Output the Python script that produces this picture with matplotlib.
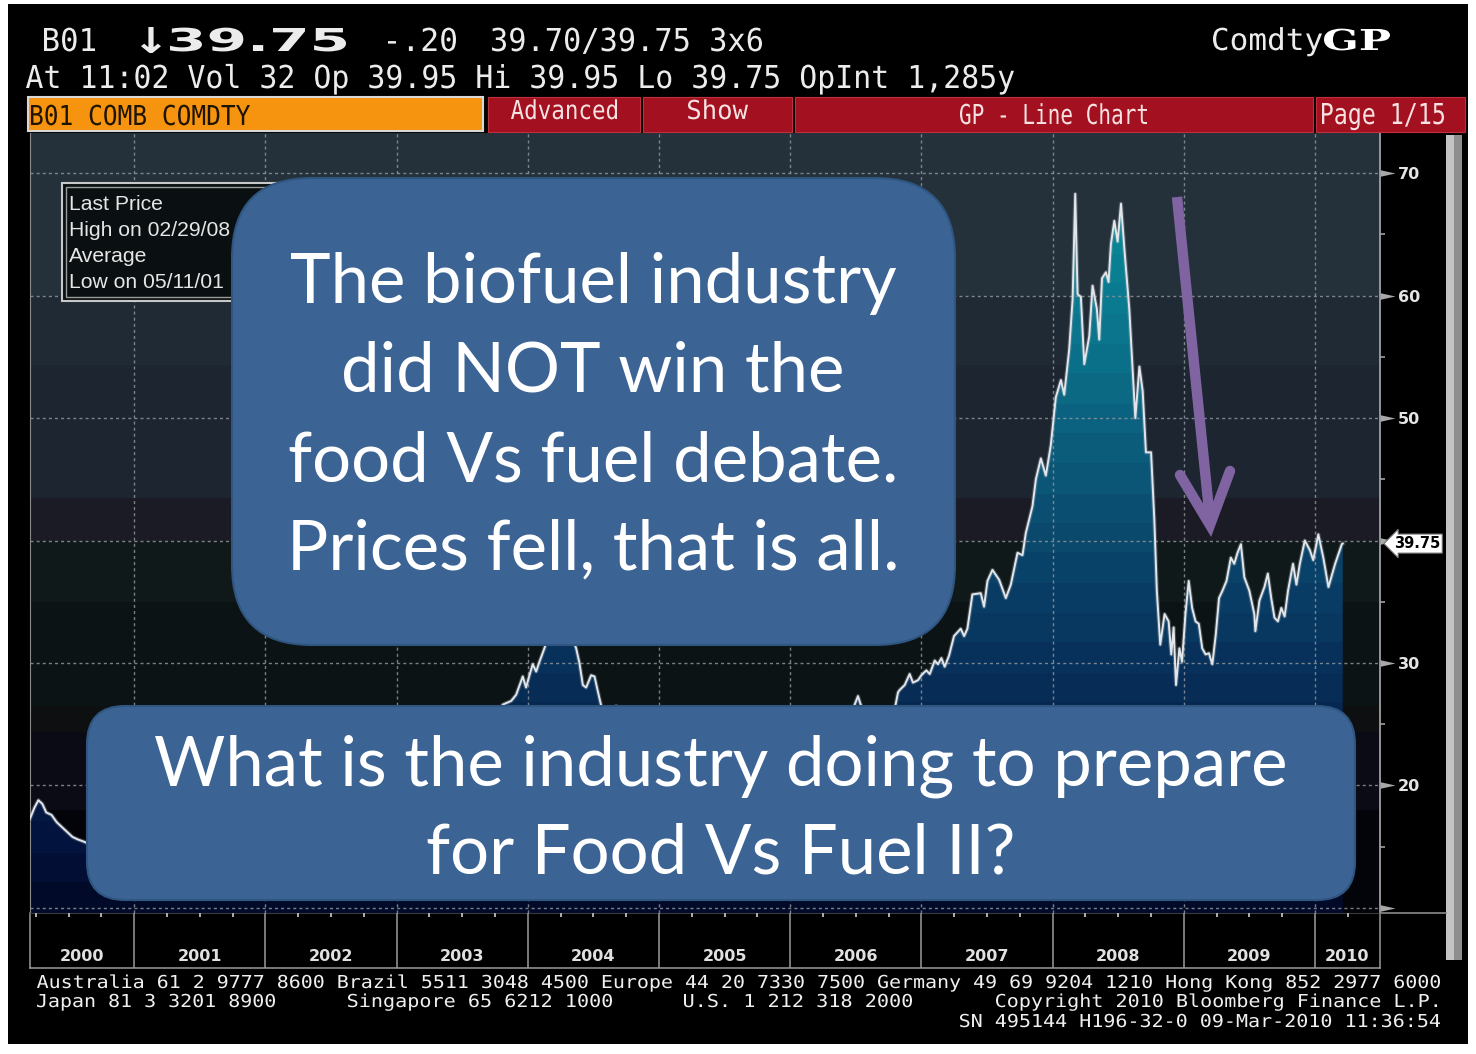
import matplotlib as mpl
mpl.use('agg')
import matplotlib.pyplot as plt
import numpy as np
from matplotlib.colors import LinearSegmentedColormap, ListedColormap
from matplotlib.font_manager import FontProperties
from matplotlib.patches import FancyBboxPatch, PathPatch, Polygon, Rectangle
from matplotlib.path import Path
from matplotlib.textpath import TextPath
from matplotlib.transforms import Affine2D, blended_transform_factory

W, H = 1476, 1054

# soybean oil front month (BO1), cents/lb (hidden parts estimated)
dates = [
    2000.206, 2000.24, 2000.27, 2000.30, 2000.33, 2000.37, 2000.41, 2000.45, 2000.49, 2000.53,
    2000.57, 2000.62, 2000.70, 2000.78, 2000.86, 2000.94, 2001.02, 2001.10, 2001.18, 2001.26,
    2001.36, 2001.44, 2001.52, 2001.60, 2001.68, 2001.76, 2001.84, 2001.92, 2002.00, 2002.10,
    2002.20, 2002.30, 2002.40, 2002.50, 2002.60, 2002.70, 2002.80, 2002.90, 2003.00, 2003.10,
    2003.20, 2003.30, 2003.40, 2003.50, 2003.58, 2003.66, 2003.74, 2003.809, 2003.873, 2003.911,
    2003.949, 2003.962, 2003.987, 2004.013, 2004.038, 2004.064, 2004.089, 2004.127, 2004.17, 2004.21,
    2004.25, 2004.29, 2004.33, 2004.369, 2004.394, 2004.420, 2004.445, 2004.483, 2004.509, 2004.534,
    2004.560, 2004.60, 2004.64, 2004.674, 2004.72, 2004.80, 2004.88, 2004.96, 2005.04, 2005.12,
    2005.20, 2005.28, 2005.36, 2005.44, 2005.52, 2005.60, 2005.68, 2005.76, 2005.84, 2005.92,
    2006.00, 2006.08, 2006.16, 2006.24, 2006.32, 2006.40, 2006.47, 2006.517, 2006.55, 2006.62,
    2006.70, 2006.76, 2006.80, 2006.822, 2006.835, 2006.873, 2006.911, 2006.936, 2006.975, 2007.000,
    2007.038, 2007.064, 2007.102, 2007.127, 2007.153, 2007.178, 2007.211, 2007.249, 2007.300, 2007.326,
    2007.351, 2007.389, 2007.453, 2007.478, 2007.504, 2007.542, 2007.593, 2007.644, 2007.682, 2007.733,
    2007.771, 2007.796, 2007.847, 2007.873, 2007.911, 2007.949, 2007.987, 2008.025, 2008.064, 2008.089,
    2008.127, 2008.153, 2008.173, 2008.191, 2008.216, 2008.242, 2008.280, 2008.305, 2008.338, 2008.356,
    2008.377, 2008.407, 2008.427, 2008.445, 2008.471, 2008.496, 2008.522, 2008.547, 2008.585, 2008.631,
    2008.662, 2008.687, 2008.712, 2008.751, 2008.776, 2008.795, 2008.821, 2008.854, 2008.885, 2008.905,
    2008.923, 2008.941, 2008.967, 2008.987, 2009.013, 2009.038, 2009.064, 2009.090, 2009.115, 2009.141,
    2009.167, 2009.192, 2009.218, 2009.244, 2009.269, 2009.295, 2009.326, 2009.359, 2009.385, 2009.410,
    2009.436, 2009.462, 2009.500, 2009.538, 2009.546, 2009.577, 2009.615, 2009.641, 2009.667, 2009.692,
    2009.718, 2009.744, 2009.769, 2009.795, 2009.833, 2009.859, 2009.885, 2009.923, 2009.962, 2009.987,
    2010.026, 2010.064, 2010.103, 2010.154, 2010.205, 2010.212,
]
price = [
    17.3, 18.2, 18.8, 18.5, 17.8, 17.6, 17.0, 16.6, 16.2, 15.8,
    15.6, 15.4, 15.0, 14.8, 15.3, 14.9, 15.2, 14.8, 14.9, 14.5,
    14.2, 15.8, 17.2, 17.8, 16.9, 16.2, 16.8, 15.9, 15.6, 15.3,
    15.9, 16.4, 17.8, 19.8, 20.8, 21.3, 20.6, 21.4, 20.8, 21.2,
    21.6, 22.1, 21.4, 20.8, 20.5, 22.8, 24.8, 26.6, 26.9, 27.4,
    28.5, 28.9, 28.0, 29.0, 29.9, 29.3, 30.1, 31.2, 32.6, 33.6,
    34.3, 33.4, 32.4, 31.2, 30.0, 28.2, 28.0, 29.0, 28.9, 27.7,
    26.5, 25.6, 26.0, 26.5, 24.2, 21.8, 20.9, 20.3, 20.8, 21.5,
    23.4, 24.1, 22.6, 23.2, 24.0, 22.8, 21.5, 21.0, 21.4, 21.8,
    22.3, 22.6, 23.1, 23.8, 24.6, 25.3, 26.0, 27.3, 26.2, 24.8,
    23.6, 24.7, 26.4, 27.6, 27.8, 28.2, 29.1, 28.4, 28.6, 29.0,
    29.4, 29.1, 30.2, 29.9, 30.4, 29.7, 30.6, 32.2, 32.8, 32.2,
    32.8, 35.6, 35.7, 34.6, 36.7, 37.6, 36.8, 35.3, 36.4, 39.0,
    38.8, 40.6, 42.8, 45.0, 46.7, 45.3, 47.8, 51.7, 53.1, 51.9,
    55.6, 59.7, 68.3, 60.1, 59.9, 54.4, 56.7, 60.8, 58.9, 56.4,
    61.4, 61.9, 61.1, 64.2, 66.1, 64.4, 67.5, 63.9, 58.9, 50.0,
    54.2, 52.2, 47.2, 47.2, 41.7, 35.9, 31.5, 34.0, 33.4, 30.7,
    32.9, 28.2, 31.2, 30.1, 34.0, 36.7, 34.5, 33.4, 33.2, 31.2,
    30.7, 30.8, 29.9, 32.3, 35.3, 35.9, 36.7, 38.6, 38.1, 39.0,
    39.7, 37.0, 35.9, 34.0, 32.6, 35.1, 36.2, 37.3, 35.3, 33.7,
    33.4, 34.5, 33.8, 35.9, 38.1, 36.4, 38.1, 40.0, 39.2, 38.4,
    40.5, 38.6, 36.2, 38.1, 39.7, 39.75,
]

years = list(range(2000, 2011))
price_ticks = [10, 20, 30, 40, 50, 60, 70]
price_labels = ['', '20', '30', '', '50', '60', '70']
minor_price_ticks = [15, 25, 35, 45, 55, 65]
legend_rows = ['Last Price', 'High on 02/29/08', 'Average', 'Low on 05/11/01']

callout_top = ['The biofuel industry', 'did NOT win the', 'food Vs fuel debate.', 'Prices fell, that is all.']
callout_bottom = ['What is the industry doing to prepare', 'for Food Vs Fuel II?']

x_lo, x_hi = 2000.206, 2010.496
y_lo, y_hi = 9.59, 73.27

# plot background bands and fill colours by price level
band_edges = [y_lo, 18, 24.4, 26.5, 35, 40, 43.5, 54.3, 60, y_hi]
band_colors = ['#03040a', '#0a0b14', '#0e0f11', '#0b1314', '#101919', '#1a1b25', '#1c2530', '#1f2a34', '#24313b']
fill_stops = [(9.59, '#020a2a'), (15, '#031440'), (20, '#051c48'), (25, '#072850'), (30, '#08325c'),
              (35, '#093c64'), (40, '#0a486c'), (45, '#0b5676'), (50, '#0b6280'), (55, '#0b6e88'),
              (60, '#0a7a90'), (68, '#088896'), (73.27, '#088c98')]


def fit_text(ax, s, x0, x1, base, cap, color, family='DejaVu Sans Mono', weight='normal', z=6):
    fp = FontProperties(family=family, weight=weight)
    tp = TextPath((0, 0), s, size=100, prop=fp)
    ext = tp.get_extents()
    cap_h = TextPath((0, 0), 'H', size=100, prop=fp).get_extents().y1
    tr = Affine2D().translate(-ext.x0, 0).scale((x1 - x0) / ext.width, -cap / cap_h).translate(x0, base)
    ax.add_patch(PathPatch(tr.transform_path(tp), fc=color, ec='none', lw=0, zorder=z))


def fit_box(ax, s, x0, x1, top, bottom, color, family='DejaVu Sans', weight='bold', z=6):
    fp = FontProperties(family=family, weight=weight)
    tp = TextPath((0, 0), s, size=100, prop=fp)
    ext = tp.get_extents()
    tr = Affine2D().translate(-ext.x0, -ext.y1).scale((x1 - x0) / ext.width, -(bottom - top) / ext.height).translate(x0, top)
    ax.add_patch(PathPatch(tr.transform_path(tp), fc=color, ec='none', lw=0, zorder=z))


def size_for(s, width, family='Lato'):
    w = TextPath((0, 0), s, size=100, prop=FontProperties(family=family)).get_extents().width
    return 100 * width / w * 0.72


fig = plt.figure(figsize=(W / 100, H / 100), dpi=100)
fig.patch.set_facecolor('white')

# black terminal background
bg = fig.add_axes([0, 0, 1, 1], zorder=-1)
bg.set_xlim(0, W)
bg.set_ylim(H, 0)
bg.axis('off')
bg.add_patch(Rectangle((8, 4), 1460, 1040, fc='black', ec='none'))

# ---- chart ----
ax = fig.add_axes([30 / W, 1 - 913 / H, 1350 / W, 780 / H], zorder=0)
ax.set_facecolor('black')
for lo, hi, c in zip(band_edges[:-1], band_edges[1:], band_colors):
    ax.axhspan(lo, hi, color=c, lw=0, zorder=0)

fill_cmap = LinearSegmentedColormap.from_list(
    'bbg', [((p - y_lo) / (y_hi - y_lo), c) for p, c in fill_stops])
n_steps = 26
fill_cmap = ListedColormap(fill_cmap(np.linspace(0, 1, n_steps)))
verts = [(dates[0], y_lo)] + list(zip(dates, price)) + [(dates[-1], y_lo)]
clip = Polygon(verts, closed=True, fc='none', ec='none')
ax.add_patch(clip)
grad = np.linspace(y_lo, y_hi, 400).reshape(-1, 1)
im = ax.imshow(grad, extent=[x_lo, x_hi, y_lo, y_hi], origin='lower', aspect='auto',
               cmap=fill_cmap, vmin=y_lo, vmax=y_hi, zorder=2, interpolation='nearest')
im.set_clip_path(clip)

ax.plot(dates, price, color='#9aa5b0', lw=3.0, alpha=0.35, zorder=3.9)
ax.plot(dates, price, color='#e2e6ea', lw=1.4, zorder=4)

ax.set_xlim(x_lo, x_hi)
ax.set_ylim(y_lo, y_hi)
ax.set_axisbelow(False)

ax.set_xticks(years[1:])
ax.set_xticklabels([])
quarters = [y + q for y in years for q in (0.25, 0.5, 0.75) if x_lo < y + q < x_hi]
ax.set_xticks(quarters, minor=True)
ax.tick_params(axis='x', which='major', direction='out', length=55 * 0.72, color='#9a9a9a', width=1.1)
ax.tick_params(axis='x', which='minor', direction='out', length=4 * 0.72, color='#b0b0b0', width=1.4)

ax.yaxis.tick_right()
ax.set_yticks(price_ticks, labels=price_labels)
ax.set_yticks(minor_price_ticks, minor=True)
ax.tick_params(axis='y', which='major', length=0, pad=18 * 0.72, labelsize=11.5, labelcolor='#e4e4e4')
ax.tick_params(axis='y', which='minor', direction='out', length=5 * 0.72, color='#a0a0a0', width=1.2)
for lab in ax.get_yticklabels():
    lab.set_fontweight('bold')

ax.grid(True, which='major', color='#8d9399', ls=(0, (2.2, 2.2)), lw=1.0, alpha=0.85)

ax.spines['top'].set_visible(False)
ax.spines['left'].set_color('#8a8a8a')
ax.spines['right'].set_color('#a0a0a0')
ax.spines['right'].set_linewidth(1.3)
ax.spines['bottom'].set_color('#3a3a3a')

# bottom year box
drop = -55 / 780
ax.plot([0, 1], [drop, drop], transform=ax.transAxes, clip_on=False, color='#9a9a9a', lw=1.1)
ax.plot([0, 0], [0, drop], transform=ax.transAxes, clip_on=False, color='#9a9a9a', lw=1.1)
ax.plot([1, 1], [0, drop], transform=ax.transAxes, clip_on=False, color='#9a9a9a', lw=1.1)

mids = [(max(y, x_lo) + min(y + 1, x_hi)) / 2 for y in years]
sec = ax.secondary_xaxis('bottom')
sec.set_xticks(mids, labels=[str(y) for y in years])
sec.tick_params(length=0, pad=36 * 0.72, labelsize=11.5, labelcolor='#e0e0e0')
sec.spines['bottom'].set_visible(False)
for lab in sec.get_xticklabels():
    lab.set_fontweight('bold')

# right axis wedges and last price tag
ytr = blended_transform_factory(ax.transAxes, ax.transData)
wedge = Path([(0, -0.22), (1, 0), (0, 0.22), (0, -0.22)], [Path.MOVETO, Path.LINETO, Path.LINETO, Path.CLOSEPOLY])
ax.plot([1] * len(price_ticks), price_ticks, transform=ytr, ls='', marker=wedge, ms=30 * 0.72,
        color='#a8a8a8', mec='none', clip_on=False, zorder=5)
ax.text(1 + 14 / 1350, price[-1], f'{price[-1]:.2f}', transform=ytr, ha='left', va='center',
        fontsize=10.5, fontweight='bold', color='black', zorder=6,
        bbox=dict(boxstyle='larrow,pad=0.14', fc='white', ec='#707070', lw=0.8))

# ---- overlay: header, footer, legend, callouts ----
ov = fig.add_axes([0, 0, 1, 1], zorder=5)
ov.set_xlim(0, W)
ov.set_ylim(H, 0)
ov.axis('off')

txt = '#ececec'
fit_text(ov, 'B01', 44, 95, 51, 23, txt)
fit_box(ov, '\u2193', 141, 161, 27, 53, txt)
fit_text(ov, '39.75', 170, 346, 51, 23, txt, family='DejaVu Sans', weight='bold')
fit_text(ov, '-.20', 388, 456, 51, 23, txt)
fit_text(ov, '39.70/39.75 3x6', 492, 762, 51, 23, txt)
fit_text(ov, 'Comdty', 1213, 1322, 50, 22, txt)
fit_text(ov, 'GP', 1324, 1390, 50, 21, '#ffffff', family='DejaVu Serif', weight='bold')
fit_text(ov, 'At 11:02 Vol 32 Op 39.95 Hi 39.95 Lo 39.75 OpInt 1,285y', 26, 1014, 88, 23, txt)

ov.add_patch(Rectangle((28, 97), 455, 34, fc='#f7940f', ec='#d8d8d8', lw=1.5, zorder=4))
fit_text(ov, 'B01 COMB COMDTY', 31, 250, 125, 20, '#1e1400')
for x0, x1 in [(488, 640), (643, 792), (795, 1313), (1316, 1465)]:
    ov.add_patch(Rectangle((x0, 97), x1 - x0, 35, fc='#a3101f', ec='#c0303a', lw=0.8, zorder=4))
pink = '#f6e2e2'
fit_text(ov, 'Advanced', 511, 617, 119, 19, pink)
fit_text(ov, 'Show', 688, 748, 119, 19, pink)
fit_text(ov, 'GP - Line Chart', 960, 1147, 124, 20, pink)
fit_text(ov, 'Page 1/15', 1322, 1444, 124, 21, pink)

# scrollbar and right panel edge
ov.add_patch(Rectangle((1446, 135), 8, 825, fc='#c4c4c4', ec='none', zorder=3))
ov.add_patch(Rectangle((1454, 135), 8, 825, fc='#8e8e8e', ec='none', zorder=3))
ov.plot([1380, 1446], [913, 913], color='#8a8a8a', lw=1.2, zorder=3)

foot = '#f0f0f0'
fit_text(ov, 'Australia 61 2 9777 8600 Brazil 5511 3048 4500 Europe 44 20 7330 7500 Germany 49 69 9204 1210 Hong Kong 852 2977 6000',
         37, 1440, 988, 13, foot)
fit_text(ov, 'Japan 81 3 3201 8900', 37, 275, 1007, 13, foot)
fit_text(ov, 'Singapore 65 6212 1000', 348, 612, 1007, 13, foot)
fit_text(ov, 'U.S. 1 212 318 2000', 684, 912, 1007, 13, foot)
fit_text(ov, 'Copyright 2010 Bloomberg Finance L.P.', 996, 1437, 1007, 13, foot)
fit_text(ov, 'SN 495144 H196-32-0 09-Mar-2010 11:36:54', 960, 1440, 1027, 13, foot)

# legend box (values covered by the callout)
ov.add_patch(Rectangle((62, 183), 228, 118, fc='#0a1011', ec='#c8c8c8', lw=1.5, zorder=3))
ov.add_patch(Rectangle((66, 187), 220, 110, fc='none', ec='#9a9a9a', lw=1.0, zorder=3))
for i, row in enumerate(legend_rows):
    ov.text(69, 205 + i * 25.7, row, ha='left', va='center', fontsize=15.2,
            family='Liberation Sans', color='#e6e6e6', zorder=3.5)

# callouts
c_face, c_edge = '#3b6394', '#2f5581'
ov.add_patch(FancyBboxPatch((232, 178), 723, 467, boxstyle='round,pad=0,rounding_size=80',
                            fc=c_face, ec=c_edge, lw=1.5, zorder=7))
ov.add_patch(FancyBboxPatch((87, 706), 1268, 194, boxstyle='round,pad=0,rounding_size=38',
                            fc=c_face, ec=c_edge, lw=1.5, zorder=7))
fs1 = size_for(callout_top[0], 605)
for i, line in enumerate(callout_top):
    ov.text(593, 303 + i * 89, line, ha='center', va='baseline', fontsize=fs1,
            family='Lato', color='white', zorder=8)
fs2 = size_for(callout_bottom[0], 1130)
for i, line in enumerate(callout_bottom):
    ov.text(721, 785 + i * 88, line, ha='center', va='baseline', fontsize=fs2,
            family='Lato', color='white', zorder=8)

# purple arrow
purple = '#8064a2'
ov.plot([1177, 1210], [197, 520], color=purple, lw=7.5, solid_capstyle='butt', zorder=9)
ov.plot([1180, 1210, 1230], [475, 525, 471], color=purple, lw=7.5,
        solid_joinstyle='miter', solid_capstyle='round', zorder=9)

fig.savefig('out.png', dpi=100, facecolor=fig.get_facecolor())
